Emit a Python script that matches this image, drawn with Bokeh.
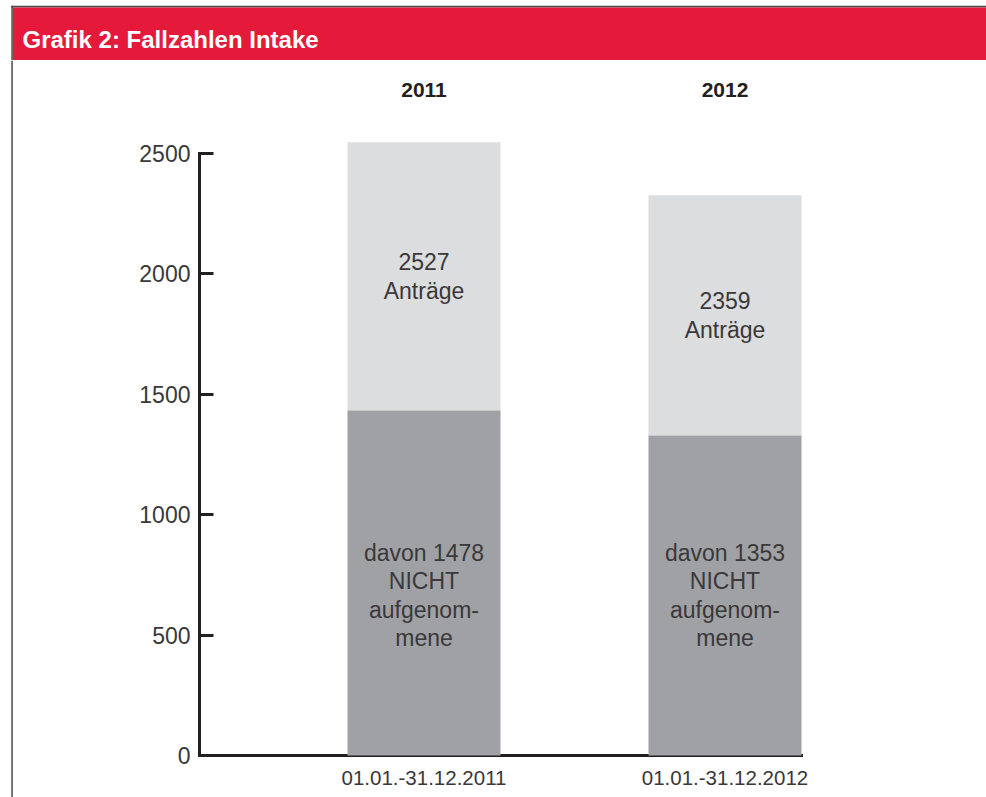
from bokeh.plotting import figure
from bokeh.layouts import column, row
from bokeh.models import Range1d, LinearAxis, FixedTicker, ColumnDataSource
from bokeh.embed import file_html
from bokeh.resources import INLINE
from bokeh.core.properties import value

# ---------------- data ----------------
title_text = "Grafik 2: Fallzahlen Intake"
years = ["2011", "2012"]
periods = ["01.01.-31.12.2011", "01.01.-31.12.2012"]
antraege = [2527, 2359]            # labelled totals
nicht_aufgenommen = [1478, 1353]   # labelled "not admitted"
bar_total = [2545, 2325]           # drawn bar heights
bar_nicht = [1432, 1328]           # drawn heights of the dark part
y_ticks = [0, 500, 1000, 1500, 2000, 2500]

# ---------------- style / layout ----------------
RED = "#E51A3A"
LIGHT = "#DCDDDF"
DARK = "#A0A1A5"
TXT = "#3A3839"
AXIS = "#231F20"
FRAME_LINE = "#4A4A4A"
FONT = "Liberation Sans"

PAGE_W = 986
HEADER_H = 60
EDGE_W = 13          # strip holding the left frame line
LINE_X0, LINE_X1 = 10.8, 12.3
TOP_LINE_Y0, TOP_LINE_Y1 = 5.3, 7.0

MAIN_W = PAGE_W - EDGE_W
MAIN_H = 737
LEFT = 186
TOP = 48
BOTTOM = 42
FRAME_W = MAIN_W - LEFT
FRAME_H = MAIN_H - TOP - BOTTOM
PX_PER_UNIT = 0.24092
X_SPACING = 301.0
FIRST_CENTER = 410.5
BAR_W = 153 / X_SPACING

X0 = 1 - (FIRST_CENTER - LEFT) / X_SPACING
X1 = X0 + FRAME_W / X_SPACING
Y1 = FRAME_H / PX_PER_UNIT


def bare(w, h, xr, yr):
    f = figure(width=w, height=h, x_range=xr, y_range=yr,
               x_axis_location=None, y_axis_location=None,
               min_border=0, min_border_left=0, min_border_right=0,
               min_border_top=0, min_border_bottom=0,
               output_backend="svg", toolbar_location=None)
    f.grid.visible = False
    f.outline_line_color = None
    f.background_fill_color = "white"
    f.border_fill_color = "white"
    f.frame_align = False
    return f


# ---------------- header ----------------
hdr = bare(PAGE_W, HEADER_H, Range1d(0, PAGE_W), Range1d(HEADER_H, 0))
hdr.quad(left=[LINE_X0], right=[PAGE_W], top=[TOP_LINE_Y0], bottom=[TOP_LINE_Y1],
         fill_color=FRAME_LINE, line_color=None)
hdr.quad(left=[LINE_X1], right=[PAGE_W], top=[TOP_LINE_Y1], bottom=[HEADER_H],
         fill_color=RED, line_color=None)
hdr.quad(left=[LINE_X0], right=[LINE_X1], top=[TOP_LINE_Y0], bottom=[HEADER_H],
         fill_color=FRAME_LINE, line_color=None)
hdr.text(x=[22], y=[39.3], text=[title_text], text_font=value(FONT),
         text_font_style="bold", text_font_size="24px", text_color="white",
         text_baseline="alphabetic", text_align="left")

# ---------------- left frame line strip ----------------
edge = bare(EDGE_W, MAIN_H, Range1d(0, EDGE_W), Range1d(MAIN_H, 0))
edge.quad(left=[LINE_X0], right=[LINE_X1], top=[0], bottom=[MAIN_H],
          fill_color=FRAME_LINE, line_color=None)

# ---------------- main chart ----------------
p = figure(width=MAIN_W, height=MAIN_H,
           min_border_left=LEFT, min_border_right=0,
           min_border_top=TOP, min_border_bottom=BOTTOM,
           x_range=Range1d(X0, X1), y_range=Range1d(0, Y1),
           output_backend="svg", toolbar_location=None)
p.grid.visible = False
p.outline_line_color = None
p.background_fill_color = "white"
p.border_fill_color = "white"
p.frame_align = False

xs = [i + 1 for i in range(len(periods))]

xa = p.below[0]
xa.ticker = FixedTicker(ticks=xs)
xa.major_label_overrides = {x: lab for x, lab in zip(xs, periods)}
xa.major_tick_line_color = None
xa.minor_tick_line_color = None
xa.axis_line_width = 3
xa.axis_line_color = AXIS
xa.axis_line_cap = "square"
xa.bounds = (X0, xs[-1] + BAR_W / 2)
xa.major_label_text_font = FONT
xa.major_label_text_font_size = "20.5px"
xa.major_label_text_color = TXT
xa.major_label_standoff = 9

ya = p.left[0]
ya.ticker = FixedTicker(ticks=y_ticks)
ya.bounds = (y_ticks[0], y_ticks[-1])
ya.major_tick_in = 14
ya.major_tick_out = 0
ya.major_tick_line_width = 3
ya.major_tick_line_color = AXIS
ya.minor_tick_line_color = None
ya.axis_line_width = 3
ya.axis_line_color = AXIS
ya.axis_line_cap = "square"
ya.major_label_text_font = FONT
ya.major_label_text_font_size = "23px"
ya.major_label_text_color = TXT
ya.major_label_standoff = 9

ta = LinearAxis(ticker=FixedTicker(ticks=xs),
                major_label_overrides={x: y for x, y in zip(xs, years)},
                axis_line_color=None, major_tick_line_color=None,
                minor_tick_line_color=None,
                major_label_text_font=FONT, major_label_text_font_style="bold",
                major_label_text_font_size="21px", major_label_text_color=AXIS,
                major_label_standoff=6)
p.add_layout(ta, "above")

src = ColumnDataSource(dict(x=xs, total=bar_total, nicht=bar_nicht))
p.vbar(x="x", bottom="nicht", top="total", width=BAR_W, source=src,
       fill_color=LIGHT, line_color=None, level="overlay")
p.vbar(x="x", bottom=0, top="nicht", width=BAR_W, source=src,
       fill_color=DARK, line_color=None, level="overlay")

upper_txt = [f"{v}\nAnträge" for v in antraege]
lower_txt = [f"davon {v}\nNICHT\naufgenom-\nmene" for v in nicht_aufgenommen]
upper_y = [(a + b) / 2 for a, b in zip(bar_nicht, bar_total)]
# the lower labels sit at one common height: centred on the smaller dark segment
lower_y = [min(bar_nicht) / 2] * len(bar_nicht)

for ys, txt in ((upper_y, upper_txt), (lower_y, lower_txt)):
    p.text(x=xs, y=ys, text=txt, text_align="center", text_baseline="middle",
           text_font=value(FONT), text_font_size="23px", text_color=TXT,
           text_line_height=1.1, level="overlay")

layout = column(hdr, row(edge, p, spacing=0), spacing=0)
open("out.html", "w").write(file_html(layout, INLINE))
